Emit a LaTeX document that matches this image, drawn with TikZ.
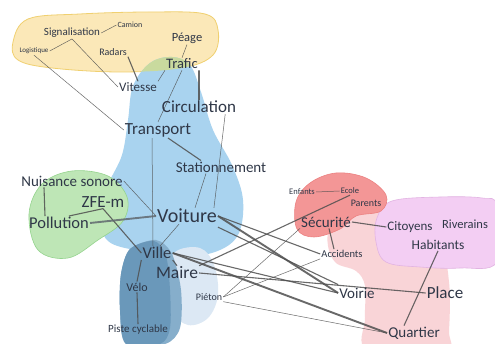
\documentclass[tikz,border=0pt]{standalone}
\usepackage{fontspec}
\setmainfont{Carlito}
\definecolor{txt}{HTML}{2F3747}
\definecolor{yelF}{HTML}{FBE8B8}
\definecolor{yelD}{HTML}{F0D070}
\definecolor{bluF}{HTML}{A9D3EF}
\definecolor{ovlF}{HTML}{C9DA9E}
\definecolor{grnF}{HTML}{BEE6B6}
\definecolor{grnD}{HTML}{95D48E}
\definecolor{stlF}{HTML}{6A98BA}
\definecolor{stlL}{HTML}{86AECB}
\definecolor{palF}{HTML}{DCE8F4}
\definecolor{pnkF}{HTML}{F9D4D7}
\definecolor{redF}{HTML}{F39696}
\definecolor{redD}{HTML}{EC8080}
\definecolor{vioF}{HTML}{F3CEF3}
\definecolor{vioD}{HTML}{E2B4E2}
\definecolor{lnc}{HTML}{4F4F4F}
\pgfdeclarelayer{blobs}
\pgfdeclarelayer{lines}
\pgfsetlayers{blobs,lines,main}
\tikzset{
  lbl/.style={inner sep=1pt, text=txt, font=\fontsize{#1}{#1}\selectfont},
  lnA/.style={draw=lnc, line width=0.5pt, opacity=0.85},
  lnB/.style={draw=lnc, line width=1.1pt, opacity=0.85},
  lnC/.style={draw=lnc, line width=1.9pt, opacity=0.85},
}
\begin{document}
\begin{tikzpicture}[x=1pt,y=-1pt]
\useasboundingbox (0,0) rectangle (495,344);
% ---------- blobs ----------
\begin{pgfonlayer}{blobs}
\fill[white] (0,0) rectangle (495,344);
% pink
\fill[pnkF] plot[smooth cycle, tension=0.6] coordinates {(330,226) (346,212) (378,212) (405,226) (440,250) (449,282) (449,330) (444,350) (368,350) (365,318) (365,286) (356,271) (336,263) (328,246)};
% violet
\filldraw[fill=vioF, draw=vioD, line width=0.6pt] plot[smooth cycle, tension=0.6] coordinates {(377,218) (392,201) (440,197) (482,198) (497,206) (497,262) (460,268) (420,267) (386,262) (376,242)};
% red cloud
\filldraw[fill=redF, draw=redD, line width=0.6pt] plot[smooth cycle, tension=0.6] coordinates {(296,202) (310,183) (336,173) (366,178) (386,195) (381,211) (356,216) (340,229) (314,237) (297,229)};
% yellow
\filldraw[fill=yelF, draw=yelD, line width=0.8pt] plot[smooth cycle, tension=0.6] coordinates {(13,42) (28,19) (80,14) (150,12) (205,14) (218,30) (213,55) (182,68) (120,72) (52,68) (18,60)};
% blue
\fill[bluF] plot[smooth cycle, tension=0.6] coordinates {(150,63) (172,57) (190,65) (201,92) (213,130) (232,165) (243,200) (238,235) (215,252) (180,256) (140,251) (108,241) (100,215) (108,185) (122,155) (128,120) (133,86)};
% overlap yellow/blue
\begin{scope}
\clip plot[smooth cycle, tension=0.6] coordinates {(150,63) (172,57) (190,65) (201,92) (213,130) (232,165) (243,200) (238,235) (215,252) (180,256) (140,251) (108,241) (100,215) (108,185) (122,155) (128,120) (133,86)};
\fill[ovlF] plot[smooth cycle, tension=0.6] coordinates {(13,42) (28,19) (80,14) (150,12) (205,14) (218,30) (213,55) (182,68) (120,72) (52,68) (18,60)};
\end{scope}
% green
\filldraw[fill=grnF, draw=grnD, line width=0.6pt] plot[smooth cycle, tension=0.6] coordinates {(29,214) (42,184) (72,171) (108,176) (127,197) (123,221) (98,240) (68,258) (38,250)};
% pale
\fill[palF] plot[smooth cycle, tension=0.6] coordinates {(175,252) (200,248) (214,265) (218,295) (208,318) (188,325) (172,310) (168,275)};
% steel blue
\fill[stlL] plot[smooth cycle, tension=0.5] coordinates {(130,249) (156,240) (172,254) (181,290) (180,328) (165,344) (126,344) (120,310) (121,274)};
\fill[stlF] plot[smooth cycle, tension=0.5] coordinates {(130,249) (154,241) (166,256) (170,290) (170,328) (160,344) (126,344) (120,310) (121,274)};
\end{pgfonlayer}
% ---------- nodes ----------
\node[lbl=11] (sig) at (72,33) {Signalisation};
\node[lbl=8] (cam) at (130,25) {Camion};
\node[lbl=7] (log) at (34,51) {Logistique};
\node[lbl=10] (rad) at (113,52) {Radars};
\node[lbl=12.5] (pea) at (187,38) {Péage};
\node[lbl=14.5] (trf) at (182,64) {Trafic};
\node[lbl=13] (vit) at (138,87) {Vitesse};
\node[lbl=17] (cir) at (199,107) {Circulation};
\node[lbl=17] (tra) at (158,130) {Transport};
\node[lbl=15] (sta) at (221,167) {Stationnement};
\node[lbl=15] (nui) at (72,181) {Nuisance sonore};
\node[lbl=17] (zfe) at (103,202) {ZFE-m};
\node[lbl=16.5] (pol) at (59,223) {Pollution};
\node[lbl=20] (voi) at (187,216) {Voiture};
\node[lbl=16.5] (vil) at (157,253) {Ville};
\node[lbl=17.5] (mai) at (177,273) {Maire};
\node[lbl=12] (vel) at (137,287) {Vélo};
\node[lbl=11] (pis) at (138,330) {Piste cyclable};
\node[lbl=10] (pie) at (209,297) {Piéton};
\node[lbl=8.5] (enf) at (302,192) {Enfants};
\node[lbl=8.5] (eco) at (350,191) {Ecole};
\node[lbl=10] (par) at (366,203) {Parents};
\node[lbl=15] (sec) at (326,222) {Sécurité};
\node[lbl=10.5] (acc) at (342,254) {Accidents};
\node[lbl=13] (cit) at (410,227) {Citoyens};
\node[lbl=12.5] (riv) at (465,224) {Riverains};
\node[lbl=13.5] (hab) at (438,245) {Habitants};
\node[lbl=15] (vor) at (357,293) {Voirie};
\node[lbl=17] (pla) at (445,293) {Place};
\node[lbl=15] (qua) at (414,333) {Quartier};
% ---------- connectors ----------
\begin{pgfonlayer}{lines}
\draw[lnA] (sig.east) -- (cam.west);
\draw[lnA] (sig.south) -- (log.east);
\draw[lnA] (sig.south) -- (vit.west);
\draw[lnA] (log.south) -- (tra.west);
\draw[lnA] (pea.south) -- (trf.north);
\draw[lnA] (trf.south west) -- (vit.north east);
\draw[lnA] (trf.south) -- (tra.north);
\draw[lnB] (rad.south east) -- (vit.north);
\draw[lnC] (trf.south east) -- (cir.north);
\draw[lnA] ([xshift=-12pt]cir.south east) -- ([xshift=-4pt]voi.north east);
\draw[lnB] ([xshift=10pt]tra.south) -- ([xshift=-20pt]sta.north);
\draw[lnA] ([xshift=-6pt]tra.south) -- ([xshift=-4pt]vil.north);
\draw[lnA] ([xshift=-15pt]sta.south) -- ([xshift=8pt]voi.north);
\draw[lnA] ([xshift=-8pt]voi.south) -- ([xshift=3pt]vil.north);
\draw[lnA] (nui.east) -- (voi.west);
\draw[lnB] ([xshift=-28pt]nui.south) -- ([xshift=-14pt]pol.north);
\draw[lnB] (zfe.south) -- ([xshift=10pt]pol.north);
\draw[lnB] (zfe.south) -- (vil.west);
\draw[lnC, draw=lnc!80!bluF] (pol.east) -- (voi.west);
\draw[lnB] (vil.south west) -- (vel.north);
\draw[lnB] (vel.south) -- (pis.north);
\draw[lnB] (vil.south east) -- (mai.north);
% right side
\draw[lnC] (voi.east) -- (vor.west);
\draw[lnB] ([yshift=-3pt]voi.south east) -- ([yshift=2pt]vor.north west);
\draw[lnB] (voi.east) -- (acc.west);
\draw[lnB] (vil.east) -- (vor.west);
\draw[lnC] (vil.east) -- (qua.west);
\draw[lnB] (mai.east) -- (pla.west);
\draw[lnB] (mai.north east) -- (eco.south);
\draw[lnA] (pie.east) -- (sec.south west);
\draw[lnA] (pie.east) -- (acc.south west);
\draw[lnA] (pie.south east) -- (qua.west);
\draw[lnA] (enf.east) -- (eco.west);
\draw[lnB] (sec.east) -- (cit.west);
\draw[lnB] ([xshift=3pt]sec.south) -- ([xshift=-8pt]acc.north);
\draw[lnB] (hab.south) -- ([xshift=-10pt]qua.north);
\end{pgfonlayer}
\end{tikzpicture}
\end{document}
